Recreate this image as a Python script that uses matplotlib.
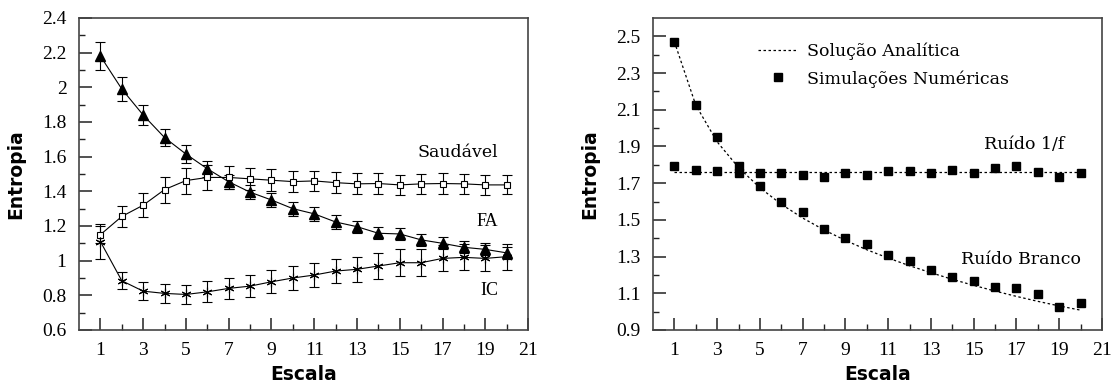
import numpy as np
import matplotlib
matplotlib.use('Agg')
import matplotlib.pyplot as plt

# escalas
escala = np.arange(1, 21)

# painel esquerdo: entropia multiescala (media e erro)
fa = [2.18, 1.99, 1.84, 1.71, 1.615, 1.53, 1.455, 1.395, 1.35, 1.30,
      1.27, 1.223, 1.196, 1.158, 1.154, 1.12, 1.10, 1.077, 1.065, 1.045]
fa_err = [0.08, 0.07, 0.06, 0.05, 0.05, 0.045, 0.04, 0.04, 0.04, 0.04,
          0.04, 0.04, 0.035, 0.035, 0.035, 0.035, 0.035, 0.035, 0.035, 0.035]
saudavel = [1.15, 1.255, 1.32, 1.41, 1.462, 1.48, 1.48, 1.472, 1.464, 1.456,
            1.46, 1.45, 1.443, 1.445, 1.437, 1.443, 1.445, 1.443, 1.437, 1.437]
saudavel_err = [0.05, 0.06, 0.07, 0.075, 0.075, 0.07, 0.065, 0.065, 0.062, 0.06,
                0.06, 0.06, 0.06, 0.058, 0.058, 0.058, 0.058, 0.056, 0.056, 0.055]
ic = [1.11, 0.884, 0.824, 0.811, 0.805, 0.82, 0.84, 0.853, 0.878, 0.90,
      0.917, 0.94, 0.95, 0.969, 0.988, 0.988, 1.013, 1.019, 1.013, 1.023]
ic_err = [0.10, 0.05, 0.05, 0.055, 0.055, 0.06, 0.06, 0.065, 0.067, 0.07,
          0.07, 0.07, 0.072, 0.075, 0.078, 0.078, 0.075, 0.075, 0.075, 0.075]

# painel direito: ruido branco e 1/f
branco_sim = [2.47, 2.127, 1.949, 1.796, 1.687, 1.597, 1.542, 1.449, 1.40, 1.367,
              1.307, 1.276, 1.227, 1.187, 1.169, 1.133, 1.127, 1.095, 1.027, 1.045]
branco_ana = [2.47, 2.125, 1.925, 1.785, 1.675, 1.585, 1.51, 1.445, 1.388, 1.337,
              1.292, 1.25, 1.212, 1.176, 1.143, 1.112, 1.083, 1.056, 1.031, 1.008]
umf_sim = [1.796, 1.773, 1.764, 1.758, 1.758, 1.758, 1.745, 1.736, 1.755, 1.745,
           1.764, 1.764, 1.755, 1.773, 1.755, 1.785, 1.791, 1.76, 1.736, 1.755]
umf_ana = [1.762] * 20

serif = 'Liberation Serif'
sans_bold = dict(family='DejaVu Sans', weight='bold', size=13.5)

fig = plt.figure(figsize=(11.18, 3.85), dpi=100)
ax1 = fig.add_axes([0.0707, 0.1429, 0.4016, 0.8104])
ax2 = fig.add_axes([0.5841, 0.1429, 0.4016, 0.8104])

kw = dict(color='black', lw=0.8, elinewidth=0.8, capsize=3.3, capthick=0.8)
ax1.errorbar(escala, fa, yerr=fa_err, marker='^', ms=7, mfc='black', mec='black', **kw)
ax1.errorbar(escala, saudavel, yerr=saudavel_err, marker='s', ms=4.5, mfc='white', mec='black', mew=0.8, **kw)
ax1.errorbar(escala, ic, yerr=ic_err, marker=(6, 2, 0), ms=7, mec='black', mew=0.8, **kw)

ax1.set_xlim(0, 21)
ax1.set_ylim(0.6, 2.4)
ax1.set_xticks(np.arange(1, 22, 2))
ax1.set_xticks(np.arange(2, 21, 2), minor=True)
ax1.set_yticks(np.arange(0.6, 2.41, 0.2))
ax1.set_yticks(np.arange(0.7, 2.4, 0.2), minor=True)
ax1.set_yticklabels(['%g' % round(v, 1) for v in np.arange(0.6, 2.41, 0.2)])

ax1.text(17.7, 1.622, 'Saudável', family='DejaVu Serif', size=12.5, ha='center', va='center')
ax1.text(19.1, 1.225, 'FA', family=serif, size=13, ha='center', va='center')
ax1.text(19.2, 0.83, 'IC', family=serif, size=13, ha='center', va='center')

ax2.plot(escala, branco_ana, ls=(0, (2, 2)), color='black', lw=0.9, label='Solução Analítica')
ax2.plot(escala, umf_ana, ls=(0, (2, 2)), color='black', lw=0.9)
ax2.plot(escala, branco_sim, ls='none', marker='s', ms=6, color='black', label='Simulações Numéricas')
ax2.plot(escala, umf_sim, ls='none', marker='s', ms=6, color='black')

ax2.set_xlim(0, 21)
ax2.set_ylim(0.9, 2.6)
ax2.set_xticks(np.arange(1, 22, 2))
ax2.set_xticks(np.arange(2, 21, 2), minor=True)
ax2.set_yticks(np.arange(0.9, 2.51, 0.2))
ax2.set_yticks(np.arange(1.0, 2.6, 0.2), minor=True)
ax2.set_yticklabels(['%.1f' % v for v in np.arange(0.9, 2.51, 0.2)])

ax2.text(17.35, 1.909, 'Ruído 1/f', family='DejaVu Serif', size=12.5, ha='center', va='center')
ax2.text(17.2, 1.282, 'Ruído Branco', family='DejaVu Serif', size=12.5, ha='center', va='center')
ax2.legend(loc='upper left', bbox_to_anchor=(0.2, 0.97), frameon=False, numpoints=1,
           handlelength=2.2, handletextpad=0.6, labelspacing=0.55,
           prop=dict(family='DejaVu Serif', size=12.5))

for ax in (ax1, ax2):
    for s in ax.spines.values():
        s.set_color('#444444')
        s.set_linewidth(1.2)
    ax.tick_params(which='both', direction='in', top=False, right=False, color='#222222')
    ax.tick_params(which='major', length=9, width=1.1, labelsize=14, pad=9)
    ax.tick_params(which='minor', length=4.5, width=1.0)
    for lab in ax.get_xticklabels() + ax.get_yticklabels():
        lab.set_family(serif)
    ax.set_xlabel('Escala', **sans_bold)
    ax.set_ylabel('Entropia', **sans_bold)
    ax.xaxis.set_label_coords(0.5, -0.112)
    ax.yaxis.set_label_coords(-0.12, 0.5)

fig.savefig('out.png', dpi=100)
